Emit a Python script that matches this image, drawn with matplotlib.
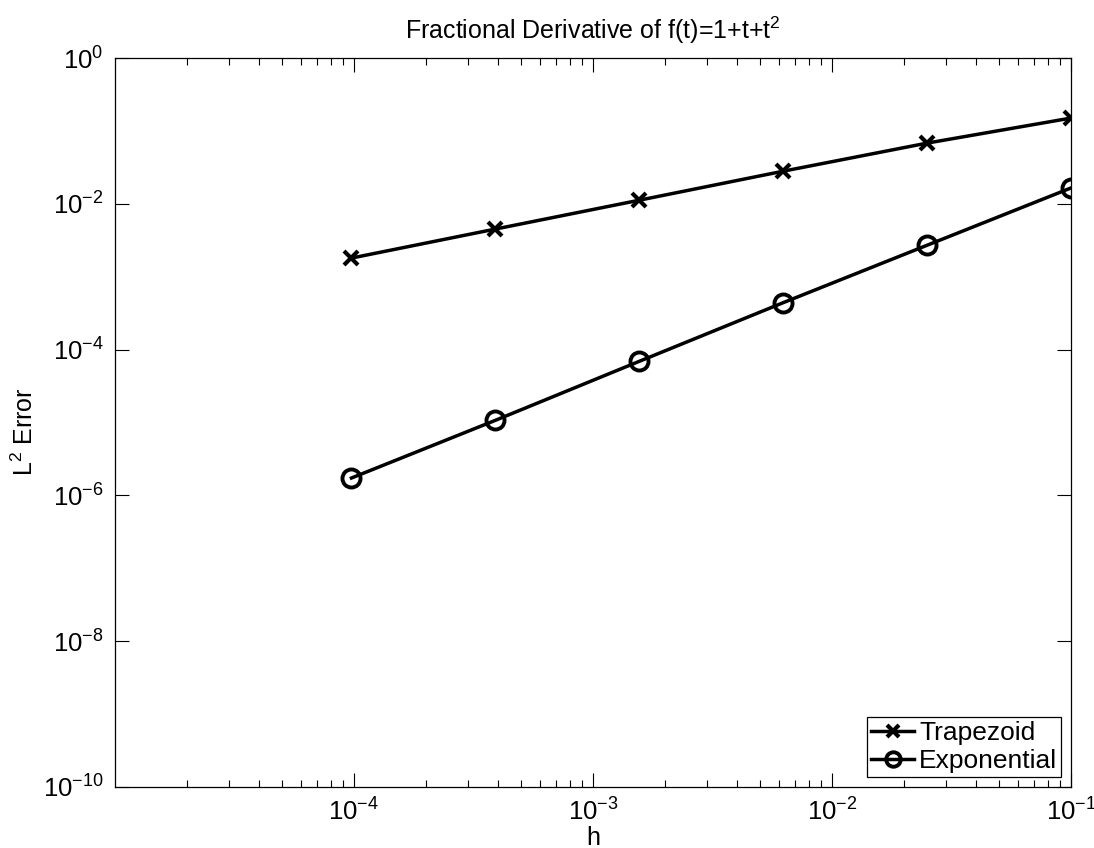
import numpy as np
import matplotlib
matplotlib.use("Agg")
import matplotlib.pyplot as plt
from matplotlib.ticker import LogLocator, NullFormatter, FixedLocator

plt.rcParams['font.family'] = ['Liberation Sans', 'DejaVu Sans']
plt.rcParams['mathtext.fontset'] = 'custom'
plt.rcParams['mathtext.rm'] = 'Liberation Sans'
plt.rcParams['mathtext.it'] = 'Liberation Sans'

# Step sizes and errors
h = [1/10240, 1/2560, 1/640, 1/160, 1/40, 1/10]
trapezoid = [1.8e-3, 4.5e-3, 1.12e-2, 2.8e-2, 6.8e-2, 1.5e-1]
exponential = [1.73e-6, 1.07e-5, 6.9e-5, 4.4e-4, 2.7e-3, 1.65e-2]

fig = plt.figure(figsize=(10.94, 8.48), dpi=100)
ax = fig.add_axes([0.105, 0.072, 0.874, 0.8596])

ax.loglog(h, trapezoid, 'k-x', lw=2.5, ms=10, mew=3, label='Trapezoid')
ax.loglog(h, exponential, 'k-o', lw=2.5, ms=13, mew=2.8, mfc='none', label='Exponential')

ax.set_xlim(1e-5, 1e-1)
ax.set_ylim(1e-10, 1e0)

ax.xaxis.set_major_locator(FixedLocator([1e-4, 1e-3, 1e-2, 1e-1]))
ax.xaxis.set_minor_locator(LogLocator(base=10, subs=np.arange(2, 10), numticks=20))
ax.xaxis.set_minor_formatter(NullFormatter())
ax.yaxis.set_major_locator(FixedLocator([1e0, 1e-2, 1e-4, 1e-6, 1e-8, 1e-10]))
ax.yaxis.set_minor_locator(FixedLocator([]))

ax.tick_params(which='both', direction='in', top=True, right=True, labelsize=18.5, width=0.8)
ax.tick_params(which='major', length=10, pad=8)
ax.tick_params(which='minor', length=5)
for s in ax.spines.values():
    s.set_linewidth(0.9)

ax.set_title(r'Fractional Derivative of f(t)=1+t+t$^2$', fontsize=18, pad=14)
ax.set_ylabel(r'L$^2$ Error', fontsize=18)
ax.yaxis.set_label_coords(-0.08, 0.487)
ax.set_xlabel('h', fontsize=18)
ax.xaxis.set_label_coords(0.5, -0.053)

leg = ax.legend(loc='lower right', bbox_to_anchor=(0.9895, 0.0137), borderaxespad=0,
                fontsize=19, fancybox=False, edgecolor='k', framealpha=1,
                handlelength=1.6, handletextpad=0.2, borderpad=0.15, labelspacing=0.15,
                markerscale=0.8)
leg.get_frame().set_linewidth(0.9)

fig.savefig('out.png', dpi=100)
